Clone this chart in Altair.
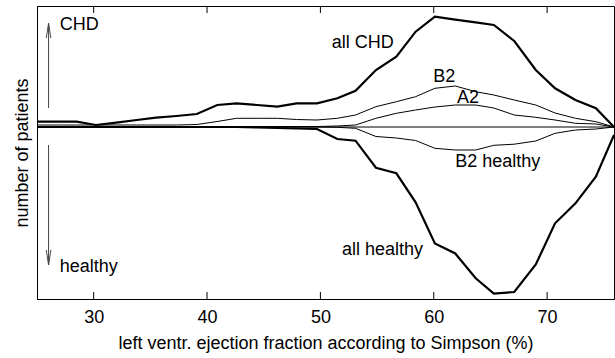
import altair as alt
import pandas as pd

# Ejection-fraction bins (%)
ef = [25.0, 26.7, 28.5, 30.2, 32.0, 33.8, 35.5, 37.3, 39.1, 40.9,
      42.6, 44.4, 46.2, 47.9, 49.7, 51.5, 53.1, 54.9, 56.7, 58.4,
      60.1, 61.9, 63.7, 65.3, 67.1, 69.0, 70.7, 72.5, 74.3, 75.9]

# Patient counts: CHD plotted upwards, healthy plotted downwards
all_chd = [5.3, 5.3, 5.3, 2.0, 4.3, 7.0, 9.3, 11.0, 13.0, 22.0,
           23.7, 22.0, 20.3, 23.7, 23.7, 28.7, 36.3, 57.0, 70.3, 95.3,
           110.3, 107.4, 104.6, 102.0, 86.0, 57.0, 38.7, 27.0, 18.7, 0.0]
b2_chd = [2.0, 2.0, 2.0, 2.0, 2.0, 2.0, 2.0, 2.0, 2.5, 5.5,
          8.7, 8.7, 8.7, 7.5, 7.0, 8.7, 12.0, 20.3, 25.3, 30.3,
          38.7, 41.0, 35.3, 32.0, 27.0, 22.0, 14.0, 8.7, 5.3, 0.0]
a2_chd = [0.0, 0.0, 0.0, 0.0, 0.0, 0.0, 0.0, 0.0, 0.5, 0.5,
          0.5, 0.5, 0.5, 0.5, 0.5, 1.0, 2.0, 8.7, 13.7, 17.0,
          20.0, 22.0, 22.0, 19.0, 12.0, 9.7, 7.0, 3.7, 3.0, 0.0]
b2_healthy = [0.0, 0.0, 0.0, 0.0, 0.0, 0.0, 0.0, 0.0, 0.0, 0.0,
              0.0, 0.0, 0.0, 0.0, 0.0, -0.3, -1.3, -9.5, -11.0, -13.5,
              -21.3, -23.0, -23.0, -18.3, -17.2, -14.0, -6.3, -3.0, -2.0, 0.0]
all_healthy = [0.0, 0.0, 0.0, 0.0, 0.0, 0.0, 0.0, 0.0, 0.0, 0.0,
               0.0, -0.5, -1.0, -1.5, -2.0, -12.0, -13.7, -40.7, -46.3, -75.3,
               -116.5, -126.5, -151.3, -166.5, -165.0, -137.5, -96.3, -76.3, -49.7, -8.0]

series = {
    "all CHD": (all_chd, "thick"),
    "B2": (b2_chd, "thin"),
    "A2": (a2_chd, "thin"),
    "B2 healthy": (b2_healthy, "thin"),
    "all healthy": (all_healthy, "thick"),
}

rows = []
for name, (vals, weight) in series.items():
    for x, v in zip(ef, vals):
        rows.append({"x": x, "v": v, "series": name, "weight": weight})
df = pd.DataFrame(rows)

# Curve labels (left edge, baseline position)
label_text = ["all CHD", "B2", "A2", "B2 healthy", "all healthy", "CHD", "healthy"]
label_x = [51.0, 59.95, 62.05, 61.9, 51.9, 27.0, 27.0]
label_v = [79.0, 45.3, 23.7, -39.7, -128.0, 97.0, -144.5]
labels = pd.DataFrame({"x": label_x, "v": label_v, "text": label_text})

# Direction arrows: shafts and open heads
arrow_x = 26.02
arrow_dx = 0.2
arrows = pd.DataFrame([
    {"seg": "up", "x": arrow_x, "v": 19.0, "o": 0},
    {"seg": "up", "x": arrow_x, "v": 103.7, "o": 1},
    {"seg": "up_head", "x": arrow_x - arrow_dx, "v": 89.0, "o": 0},
    {"seg": "up_head", "x": arrow_x, "v": 103.7, "o": 1},
    {"seg": "up_head", "x": arrow_x + arrow_dx, "v": 89.0, "o": 2},
    {"seg": "down", "x": arrow_x, "v": -18.0, "o": 0},
    {"seg": "down", "x": arrow_x, "v": -138.0, "o": 1},
    {"seg": "down_head", "x": arrow_x - arrow_dx, "v": -123.0, "o": 0},
    {"seg": "down_head", "x": arrow_x, "v": -138.0, "o": 1},
    {"seg": "down_head", "x": arrow_x + arrow_dx, "v": -123.0, "o": 2},
])

tick_values = [30, 40, 50, 60, 70]
ticks = pd.DataFrame({"x": tick_values})

FONT = "Liberation Sans"
PLOT_W, PLOT_H = 577, 293
TICK_LEN = 7

xscale = alt.Scale(domain=[25, 75.9], nice=False, zero=False)
yscale = alt.Scale(domain=[-172, 121], nice=False, zero=False)

x_axis = alt.Axis(
    title="left ventr. ejection fraction according to Simpson (%)",
    values=tick_values, format="d", tickSize=0, labelPadding=9,
    labelFont=FONT, labelFontSize=18, labelColor="black",
    titleFont=FONT, titleFontSize=18, titleFontWeight="normal",
    titleColor="black", titlePadding=8, grid=False,
    domainColor="black", domainWidth=1,
)
y_axis = alt.Axis(
    title="number of patients", labels=False, ticks=False, grid=False,
    titleFont=FONT, titleFontSize=18, titleFontWeight="normal",
    titleColor="black", titlePadding=6, domainColor="black", domainWidth=1,
)
X = alt.X("x:Q", scale=xscale, axis=x_axis)
Y = alt.Y("v:Q", scale=yscale, axis=y_axis)

zero_line = alt.Chart(pd.DataFrame({"x": [25.0, 75.9], "v": [0.0, 0.0]})).mark_line(
    color="black", strokeWidth=1
).encode(x=X, y=Y)

thin = alt.Chart(df).transform_filter(alt.datum.weight == "thin").mark_line(
    color="black", strokeWidth=1
).encode(x=X, y=Y, detail="series:N")

thick = alt.Chart(df).transform_filter(alt.datum.weight == "thick").mark_line(
    color="black", strokeWidth=2.2, strokeJoin="miter"
).encode(x=X, y=Y, detail="series:N")

arrow_layer = alt.Chart(arrows).mark_line(color="#444444", strokeWidth=1).encode(
    x=X, y=Y, detail="seg:N", order="o:Q"
)

text_layer = alt.Chart(labels).mark_text(
    align="left", baseline="alphabetic", font=FONT, fontSize=18, color="black"
).encode(x=X, y=Y, text="text:N")

top_ticks = alt.Chart(ticks).mark_rule(color="black", strokeWidth=1).encode(
    x=X, y=alt.value(0), y2=alt.value(TICK_LEN)
)
bottom_ticks = alt.Chart(ticks).mark_rule(color="black", strokeWidth=1).encode(
    x=X, y=alt.value(PLOT_H - TICK_LEN), y2=alt.value(PLOT_H)
)

chart = alt.layer(
    zero_line, thin, thick, arrow_layer, text_layer, top_ticks, bottom_ticks
).properties(
    width=PLOT_W, height=PLOT_H,
    background="white",
    autosize=alt.AutoSizeParams(type="none"),
    padding={"left": 37, "top": 6, "right": 1, "bottom": 59},
).configure_view(
    stroke="black", strokeWidth=1
)

chart.save("out.html", embed_options={"renderer": "svg", "actions": False})
